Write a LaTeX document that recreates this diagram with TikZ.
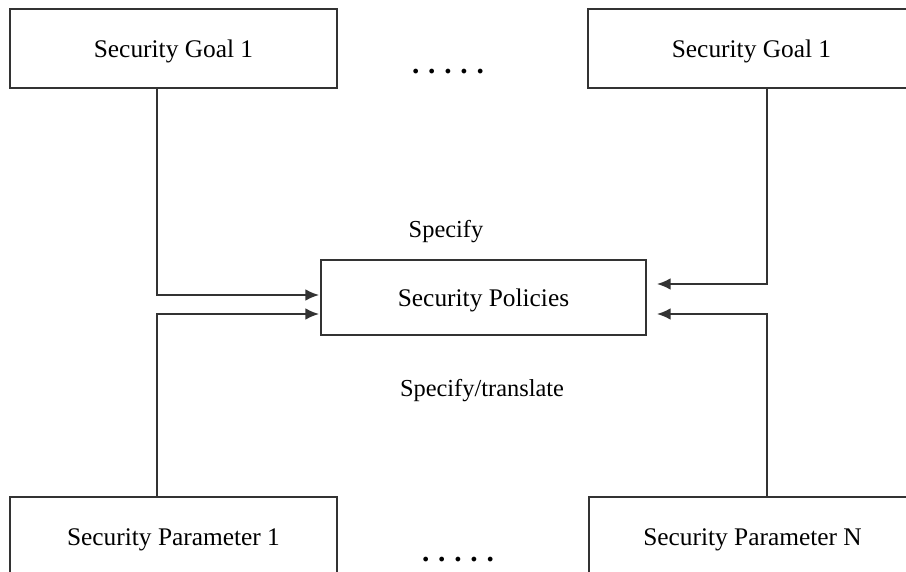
\documentclass[tikz,border=0pt]{standalone}
\usepackage{fontspec}
\setmainfont{Liberation Serif}
\usetikzlibrary{calc}
\usetikzlibrary{arrows.meta}

\tikzset{
  box/.style={rectangle, draw=black!80, line width=1pt, minimum width=5.886cm, minimum height=1.422cm, inner sep=0pt, text height=12pt, text depth=2.8pt, font=\fontsize{13}{15}\selectfont},
  arr/.style={draw=black!80, line width=1pt, -{Latex[length=7pt,width=6pt]}},
  lbl/.style={font=\fontsize{12.5}{15}\selectfont},
  dotrow/.style={font=\fontsize{15}{17}\selectfont\bfseries, anchor=base, inner sep=0pt}
}
\newcommand{\fivedots}{.\hspace{4.5pt}.\hspace{4.5pt}.\hspace{4.5pt}.\hspace{4.5pt}.}

\begin{document}
\begin{tikzpicture}[x=0.018cm, y=-0.018cm]
            \useasboundingbox (0,0) rectangle (906,572);
            \clip (0,0) rectangle (906,572);

            % Place the goal boxes
            \node[box] (g1) at (173.5,48.5) {Security Goal 1};
            \node[box] (gn) at (751.5,48.5) {Security Goal 1};
            \node[dotrow] (gdots) at (448,73) {\fivedots};

            % Place the policy box
            \node[box, minimum width=5.85cm, minimum height=1.35cm] (pol) at (483.5,297.5) {Security Policies};
            \node[lbl] (spec) at (446,232) {Specify};
            \node[lbl] (trans) at (482,391) {Specify/translate};

            % Place the parameter boxes
            \node[box] (p1) at (173.5,536.5) {Security Parameter 1};
            \node[box] (pn) at (752.5,536.5) {Security Parameter N};
            \node[dotrow] (pdots) at (458,561) {\fivedots};

            % The arrows!
            \draw[arr] ($(g1.south)+(-16.5,0)$) |- ($(pol.west)+(-1,-2.5)$);
            \draw[arr] ($(p1.north)+(-16.5,0)$) |- ($(pol.west)+(-1,16.5)$);
            \draw[arr] ($(gn.south)+(15.5,0)$) |- ($(pol.east)+(10,-13.5)$);
            \draw[arr] ($(pn.north)+(14.5,0)$) |- ($(pol.east)+(10,16.5)$);
        \end{tikzpicture}
\end{document}
